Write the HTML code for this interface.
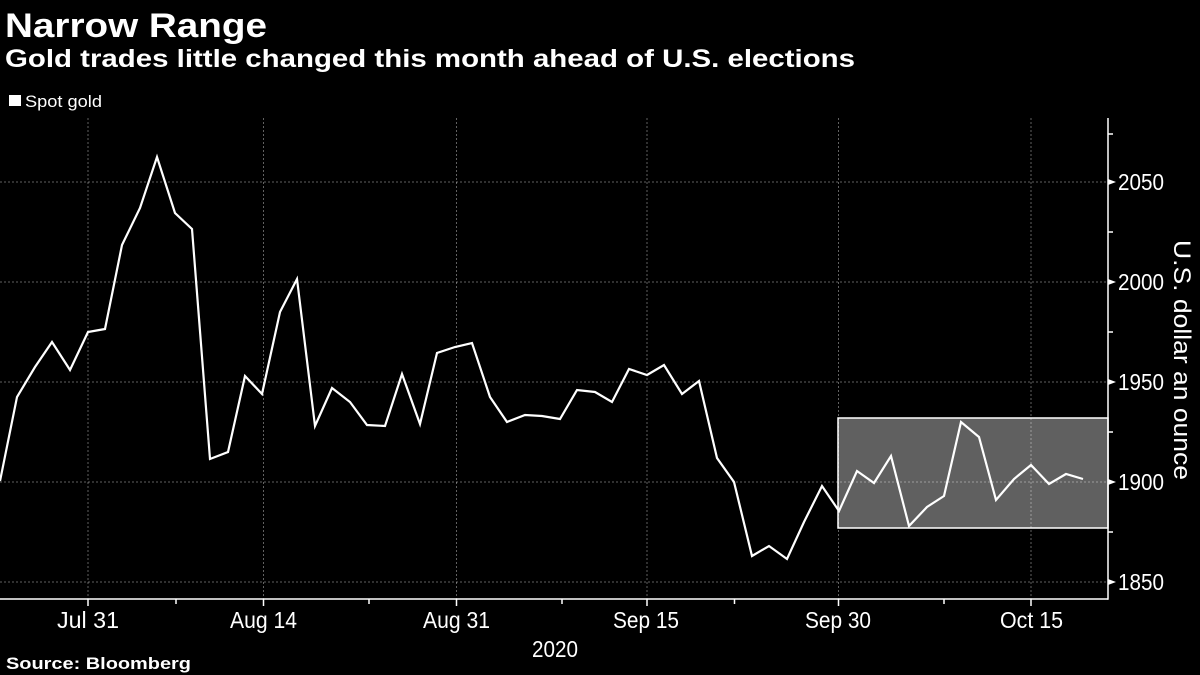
<!DOCTYPE html>
<html>
<head>
<meta charset="utf-8">
<style>
  html, body { margin:0; padding:0; background:#000; }
  body { width:1200px; height:675px; overflow:hidden; }
  svg { display:block; }
  text { font-family: "Liberation Sans", "DejaVu Sans", sans-serif; fill:#fff; }
</style>
</head>
<body>
<svg width="1200" height="675" viewBox="0 0 1200 675" xmlns="http://www.w3.org/2000/svg">
  <rect x="0" y="0" width="1200" height="675" fill="#000"/>

  <!-- Titles -->
  <text x="5" y="37" font-size="34" font-weight="bold" textLength="262" lengthAdjust="spacingAndGlyphs">Narrow Range</text>
  <text x="5" y="67" font-size="25" font-weight="bold" textLength="850" lengthAdjust="spacingAndGlyphs">Gold trades little changed this month ahead of U.S. elections</text>

  <!-- Legend -->
  <rect x="9" y="95" width="12" height="11" fill="#fff"/>
  <text x="25" y="107" font-size="17" textLength="77" lengthAdjust="spacingAndGlyphs">Spot gold</text>

  <!-- Highlight box -->
  <rect x="838" y="418" width="270" height="110" fill="#606060" stroke="#fff" stroke-width="1.5"/>

  <!-- Gridlines -->
  <g stroke="rgba(255,255,255,0.38)" stroke-width="1" stroke-dasharray="2,2">
    <line x1="0" y1="182" x2="1108" y2="182"/>
    <line x1="0" y1="282" x2="1108" y2="282"/>
    <line x1="0" y1="382" x2="1108" y2="382"/>
    <line x1="0" y1="482" x2="1108" y2="482"/>
    <line x1="0" y1="582" x2="1108" y2="582"/>
    <line x1="88" y1="118" x2="88" y2="599"/>
    <line x1="263.5" y1="118" x2="263.5" y2="599"/>
    <line x1="456.5" y1="118" x2="456.5" y2="599"/>
    <line x1="647" y1="118" x2="647" y2="599"/>
    <line x1="838.5" y1="118" x2="838.5" y2="599"/>
    <line x1="1031" y1="118" x2="1031" y2="599"/>
  </g>

  <!-- Axes -->
  <g stroke="#fff" stroke-width="1.5" fill="none">
    <line x1="0" y1="599" x2="1108" y2="599"/>
    <line x1="1108" y1="118" x2="1108" y2="599.7"/>
    <line x1="88" y1="599" x2="88" y2="606"/>
    <line x1="263.5" y1="599" x2="263.5" y2="606"/>
    <line x1="456.5" y1="599" x2="456.5" y2="606"/>
    <line x1="647" y1="599" x2="647" y2="606"/>
    <line x1="838.5" y1="599" x2="838.5" y2="606"/>
    <line x1="1031" y1="599" x2="1031" y2="606"/>
    <line x1="176" y1="599" x2="176" y2="604"/>
    <line x1="369" y1="599" x2="369" y2="604"/>
    <line x1="562" y1="599" x2="562" y2="604"/>
    <line x1="734.5" y1="599" x2="734.5" y2="604"/>
    <line x1="944" y1="599" x2="944" y2="604"/>
    <line x1="1108" y1="134" x2="1113" y2="134"/>
    <line x1="1108" y1="232" x2="1113" y2="232"/>
    <line x1="1108" y1="332" x2="1113" y2="332"/>
    <line x1="1108" y1="432" x2="1113" y2="432"/>
    <line x1="1108" y1="532" x2="1113" y2="532"/>
  </g>
  <g fill="#fff">
    <polygon points="1108,179 1116,182 1108,185"/>
    <polygon points="1108,279 1116,282 1108,285"/>
    <polygon points="1108,379 1116,382 1108,385"/>
    <polygon points="1108,479 1116,482 1108,485"/>
    <polygon points="1108,579 1116,582 1108,585"/>
  </g>

  <!-- Y labels -->
  <g font-size="23">
    <text x="1118" y="190" textLength="46" lengthAdjust="spacingAndGlyphs">2050</text>
    <text x="1118" y="290" textLength="46" lengthAdjust="spacingAndGlyphs">2000</text>
    <text x="1118" y="390" textLength="46" lengthAdjust="spacingAndGlyphs">1950</text>
    <text x="1118" y="490" textLength="46" lengthAdjust="spacingAndGlyphs">1900</text>
    <text x="1118" y="590" textLength="46" lengthAdjust="spacingAndGlyphs">1850</text>
  </g>
  <text transform="translate(1174,360) rotate(90)" x="0" y="0" font-size="24" text-anchor="middle" textLength="240" lengthAdjust="spacingAndGlyphs">U.S. dollar an ounce</text>

  <!-- X labels -->
  <g font-size="23">
    <text x="57" y="628" textLength="62" lengthAdjust="spacingAndGlyphs">Jul 31</text>
    <text x="230" y="628" textLength="67" lengthAdjust="spacingAndGlyphs">Aug 14</text>
    <text x="423" y="628" textLength="67" lengthAdjust="spacingAndGlyphs">Aug 31</text>
    <text x="613" y="628" textLength="66" lengthAdjust="spacingAndGlyphs">Sep 15</text>
    <text x="805" y="628" textLength="66" lengthAdjust="spacingAndGlyphs">Sep 30</text>
    <text x="1000" y="628" textLength="63" lengthAdjust="spacingAndGlyphs">Oct 15</text>
    <text x="532" y="657" textLength="46" lengthAdjust="spacingAndGlyphs">2020</text>
  </g>

  <!-- Series -->
  <polyline fill="none" stroke="#fff" stroke-width="2.2" stroke-linejoin="miter" points="
    0,481 17,397 35,367 52,342 70,370 88,332 105,329 122,245 140,208 157,157
    175,213 192,229 210,459 228,452 245,376 262,394 280,312 297,279 315,426 332,388
    350,402 367,425 385,426 402,374 420,424 437,353 455,347 472,343 490,397 507,422
    525,415 542,416 560,419 577,390 595,392 612,402 629,369 647,375 664,365 682,394
    699,381 717,458 734,482 752,556 769,546 787,559 804,522 822,486 839,511 857,471
    874,483 891,456 909,526 927,507 944,496 961,422 979,437 996,500 1014,479 1031,465
    1049,484 1066,474 1083,479"/>

  <!-- Source -->
  <text x="6" y="669" font-size="17" font-weight="bold" textLength="185" lengthAdjust="spacingAndGlyphs">Source: Bloomberg</text>
</svg>
</body>
</html>
